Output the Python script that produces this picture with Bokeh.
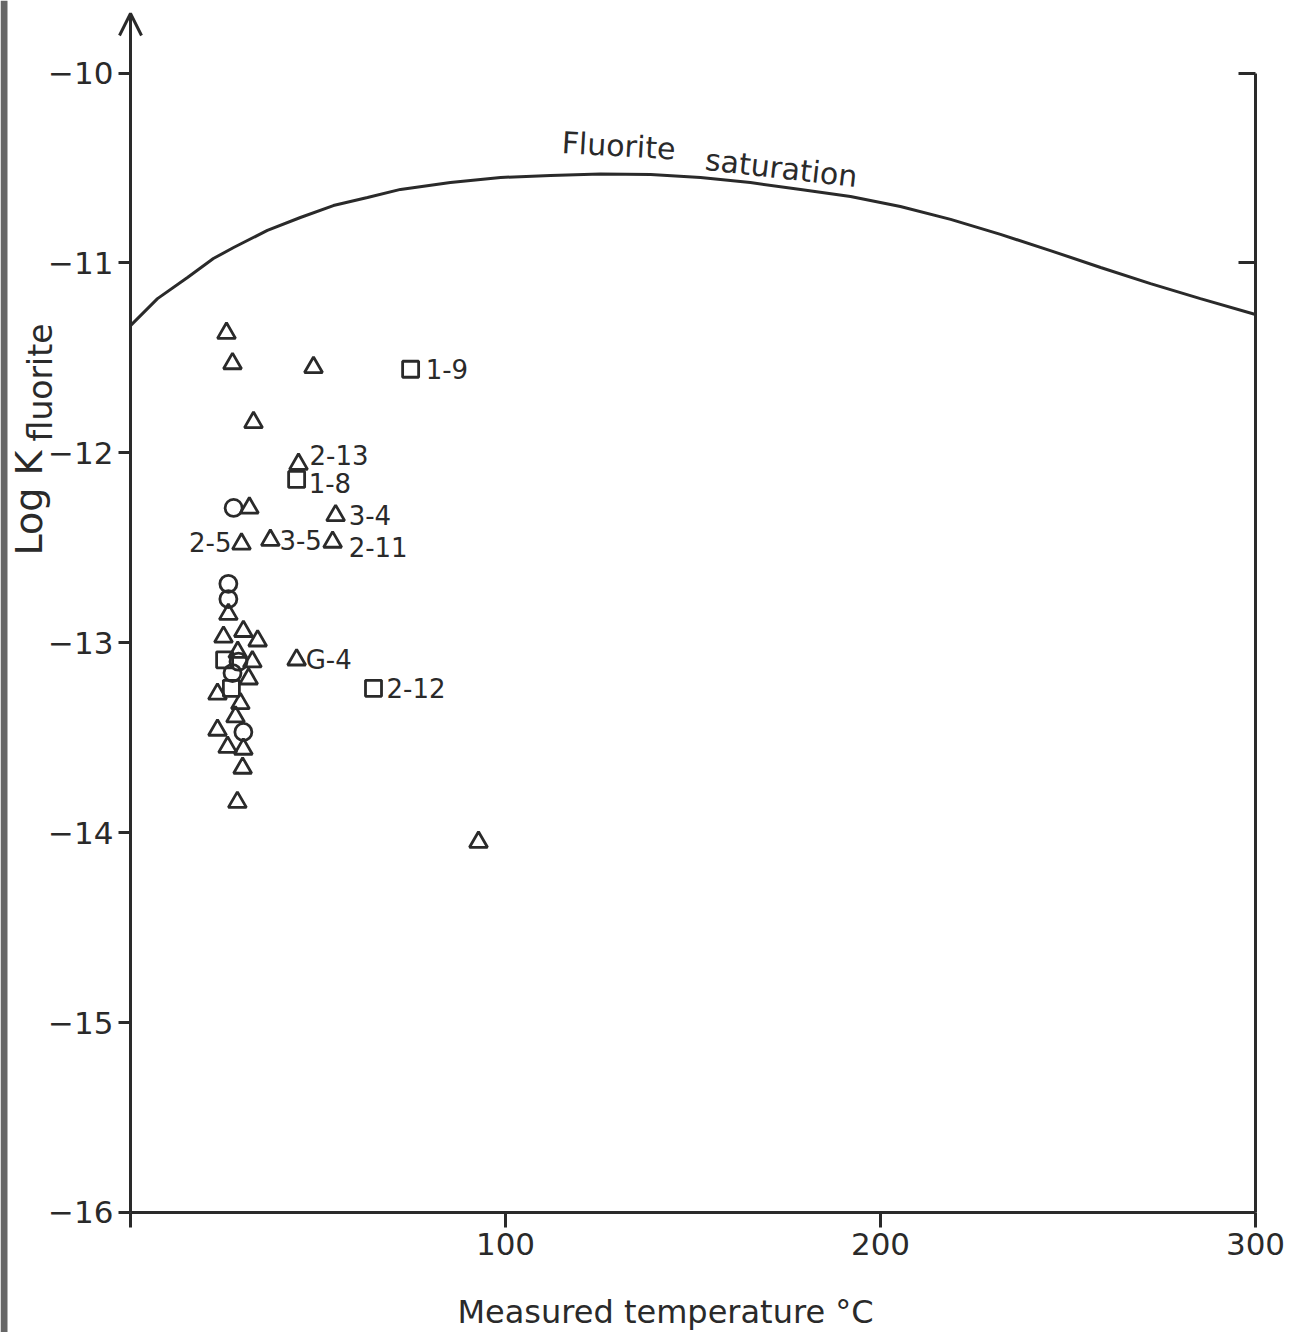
from bokeh.plotting import figure
from bokeh.models import (Range1d, LinearAxis, FixedTicker, Arrow, OpenHead,
                          Label, ColumnDataSource, BoxAnnotation)
from bokeh.core.properties import value
from bokeh.embed import file_html
from bokeh.resources import INLINE

# Fluorite saturation curve: log K versus temperature (°C)
sat_temp = [0, 7.2, 15.2, 22.1, 27.5, 36.5, 45.3, 54.1, 63.2, 72.0, 85.3, 98.7,
            112.0, 125.3, 138.7, 152.0, 165.3, 178.7, 192.0, 205.3, 218.7, 232.0,
            245.3, 258.7, 272.0, 285.3, 300.0]
sat_logk = [-11.330, -11.188, -11.077, -10.977, -10.919, -10.829, -10.761, -10.698,
            -10.656, -10.613, -10.577, -10.550, -10.540, -10.532, -10.535, -10.550,
            -10.577, -10.613, -10.650, -10.703, -10.771, -10.850, -10.935, -11.024,
            -11.109, -11.188, -11.272]

# Samples (triangles)
tri_temp = [25.6, 27.2, 48.8, 32.8, 44.8, 31.7, 54.7, 29.6, 37.3, 53.9, 44.3, 92.8,
            26.1, 24.8, 30.1, 33.9, 32.5, 31.5, 23.2, 29.3, 28.0, 23.2, 25.9, 30.1,
            29.9, 28.5, 28.6]
tri_logk = [-11.37, -11.53, -11.55, -11.84, -12.06, -12.29, -12.33, -12.48, -12.46,
            -12.47, -13.09, -14.05, -12.85, -12.97, -12.94, -12.99, -13.10, -13.19,
            -13.27, -13.32, -13.39, -13.46, -13.55, -13.56, -13.66, -13.84, -13.05]

# Samples (squares)
sq_temp = [74.7, 44.3, 64.8, 25.1, 26.9]
sq_logk = [-11.56, -12.14, -13.24, -13.09, -13.24]

# Samples (circles)
ci_temp = [27.5, 26.1, 26.1, 28.8, 27.2, 30.1]
ci_logk = [-12.29, -12.69, -12.77, -13.10, -13.16, -13.47]

# Named samples
lab_names = ["1-9", "2-13", "1-8", "3-4", "2-5", "3-5", "2-11", "G-4", "2-12"]
lab_temp = [74.7, 44.8, 44.3, 54.7, 29.6, 37.3, 53.9, 44.3, 64.8]
lab_logk = [-11.56, -12.06, -12.14, -12.33, -12.48, -12.46, -12.47, -13.09, -13.24]

y_ticks = [-10, -11, -12, -13, -14, -15, -16]
x_ticks = [0, 100, 200, 300]

# label placement (pixels) relative to each named marker
lab_dx = [15, 11, 12, 13, -10, 9, 16, 9, 13]
lab_dy = [0, -9, 4, 0, -2, 0, 5, 0, 0]
lab_align = ["left", "left", "left", "left", "right", "left", "left", "left", "left"]

COL = "#2a2a2a"
FONT = "DejaVu Sans"

# the plotting frame fills the whole canvas; axes sit at fixed data positions
X0, X1 = -34.667, 310.133
Y0, Y1 = -16.6324, -9.6182
Y_TIP = -9.6867

p = figure(width=1293, height=1332, output_backend="svg", toolbar_location=None,
           x_range=Range1d(X0, X1), y_range=Range1d(Y0, Y1),
           min_border_left=0, min_border_right=0, min_border_top=0,
           min_border_bottom=0)
p.outline_line_color = None
p.xgrid.visible = False
p.ygrid.visible = False
p.background_fill_color = "white"
p.border_fill_color = "white"


def style_axis(ax, ticks, tick_out, tick_in, size):
    ax.ticker = FixedTicker(ticks=ticks)
    ax.major_tick_out = tick_out
    ax.major_tick_in = tick_in
    ax.minor_tick_out = 0
    ax.minor_tick_in = 0
    ax.axis_line_width = 3
    ax.major_tick_line_width = 3
    ax.axis_line_color = COL
    ax.major_tick_line_color = COL
    ax.major_label_text_font = FONT
    ax.major_label_text_font_size = size
    ax.major_label_text_color = COL


# left axis (runs up to the arrow tip)
ya = p.yaxis[0]
style_axis(ya, y_ticks, 12, 0, "31px")
ya.fixed_location = 0
ya.bounds = (-16, Y_TIP)
ya.major_label_overrides = {t: "\u2212" + str(abs(t)) for t in y_ticks}
ya.major_label_standoff = 5

# bottom axis
xa = p.xaxis[0]
style_axis(xa, x_ticks, 15, 0, "31px")
xa.fixed_location = -16
xa.bounds = (0, 300)
xa.major_label_overrides = {0: ""}
xa.major_label_standoff = 6

# right axis, inward ticks at -10 and -11 only
ra = LinearAxis()
style_axis(ra, [-10, -11], 0, 17, "10px")
ra.fixed_location = 300
ra.bounds = (-16, -10)
ra.major_label_overrides = {-10: "", -11: ""}
ra.major_label_standoff = 0
p.add_layout(ra, "right")

# arrow head on the vertical axis
p.add_layout(Arrow(end=OpenHead(size=22, line_width=3, line_color=COL),
                   x_start=0, y_start=-9.75, x_end=0, y_end=Y_TIP,
                   line_width=3, line_color=COL))

# dark page edge at the far left
p.add_layout(BoxAnnotation(right=-32.8, fill_color="#666666", fill_alpha=1,
                           line_color=None))

# saturation curve
p.line(sat_temp, sat_logk, line_width=3, line_color=COL)

p.add_layout(Label(x=115.0, y=-10.366, text="Fluorite", angle=-3.3, angle_units="deg",
                   text_font=FONT, text_font_size="30px", text_color=COL,
                   text_align="left", text_baseline="middle"))
p.add_layout(Label(x=153.3, y=-10.455, text="saturation", angle=-6.5, angle_units="deg",
                   text_font=FONT, text_font_size="30px", text_color=COL,
                   text_align="left", text_baseline="middle"))

# markers
mk = dict(fill_color=None, line_color=COL, line_width=2.8)
p.scatter(tri_temp, tri_logk, marker="triangle", size=18, **mk)
p.scatter(sq_temp, sq_logk, marker="square", size=16, **mk)
p.scatter(ci_temp, ci_logk, marker="circle", size=17, **mk)

src = ColumnDataSource(dict(x=lab_temp, y=lab_logk, t=lab_names,
                            dx=lab_dx, dy=lab_dy, al=lab_align))
p.text(x="x", y="y", text="t", x_offset="dx", y_offset="dy", text_align="al",
       source=src, text_font=value(FONT), text_font_size="26px",
       text_color=COL, text_baseline="middle")

# axis titles
p.add_layout(Label(x=142.67, y=-16.522, text="Measured temperature °C",
                   text_font=FONT, text_font_size="32px", text_color=COL,
                   text_align="center", text_baseline="middle"))
p.add_layout(Label(x=-27.2, y=-12.541, text="Log K", angle=90, angle_units="deg",
                   text_font=FONT, text_font_size="38px", text_color=COL,
                   text_align="left", text_baseline="alphabetic"))
p.add_layout(Label(x=-24.0, y=-11.94, text="fluorite", angle=90, angle_units="deg",
                   text_font=FONT, text_font_size="33px", text_color=COL,
                   text_align="left", text_baseline="alphabetic"))

open("out.html", "w").write(file_html(p, INLINE))
